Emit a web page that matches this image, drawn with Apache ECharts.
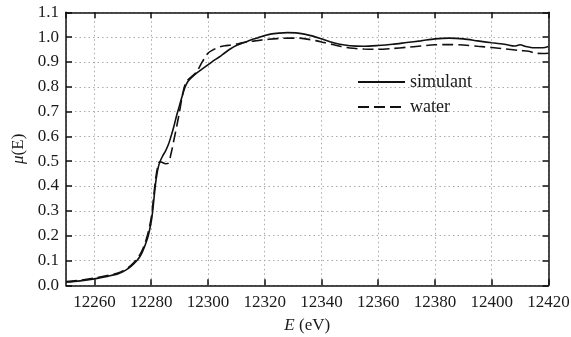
<!DOCTYPE html>
<html lang="en">
<head>
<meta charset="UTF-8" />
<title>mu(E)</title>
<style>
  html, body { margin: 0; padding: 0; background: #fff; }
</style>
</head>
<body>
<div id="main" style="width: 571px; height: 337px"></div>
<script src="https://cdn.jsdelivr.net/npm/echarts@6.0.0/dist/echarts.min.js"></script>
<script>
  // energy (eV) and mu(E)
  var simE = [12250, 12255, 12260, 12265, 12268, 12270, 12272, 12274, 12275, 12276, 12277, 12278, 12279, 12280, 12280.5, 12281, 12281.5, 12282, 12282.5, 12283, 12284, 12285, 12286, 12287, 12288, 12289, 12290, 12291, 12292, 12293, 12294, 12296, 12298, 12300, 12302, 12304, 12306, 12308, 12310, 12312, 12314, 12316, 12318, 12320, 12322, 12325, 12328, 12331, 12334, 12337, 12340, 12343, 12346, 12350, 12355, 12360, 12365, 12370, 12375, 12380, 12385, 12390, 12395, 12400, 12405, 12408, 12410, 12412, 12415, 12418, 12420];
  var simMu = [0.013, 0.018, 0.026, 0.037, 0.045, 0.054, 0.068, 0.088, 0.100, 0.115, 0.137, 0.165, 0.200, 0.255, 0.295, 0.350, 0.405, 0.445, 0.475, 0.495, 0.520, 0.540, 0.565, 0.600, 0.640, 0.685, 0.725, 0.765, 0.800, 0.822, 0.835, 0.855, 0.872, 0.888, 0.905, 0.920, 0.937, 0.953, 0.966, 0.975, 0.983, 0.992, 0.999, 1.006, 1.012, 1.016, 1.018, 1.017, 1.012, 1.004, 0.993, 0.981, 0.972, 0.965, 0.963, 0.966, 0.971, 0.978, 0.985, 0.993, 0.996, 0.993, 0.985, 0.977, 0.970, 0.964, 0.969, 0.962, 0.957, 0.957, 0.962];

  var watE = [12250, 12255, 12260, 12265, 12268, 12270, 12272, 12274, 12275, 12276, 12277, 12278, 12279, 12280, 12280.5, 12281, 12281.5, 12282, 12282.5, 12283, 12284, 12285, 12286, 12287, 12288, 12289, 12290, 12291, 12292, 12293, 12294, 12296, 12298, 12300, 12302, 12304, 12306, 12308, 12310, 12312, 12314, 12316, 12318, 12320, 12323, 12326, 12329, 12332, 12335, 12338, 12341, 12344, 12347, 12350, 12355, 12360, 12365, 12370, 12375, 12380, 12385, 12390, 12395, 12400, 12405, 12410, 12413, 12415, 12418, 12420];
  var watMu = [0.015, 0.020, 0.029, 0.040, 0.049, 0.058, 0.072, 0.093, 0.106, 0.122, 0.145, 0.175, 0.215, 0.270, 0.315, 0.370, 0.420, 0.460, 0.485, 0.498, 0.495, 0.490, 0.492, 0.530, 0.585, 0.640, 0.700, 0.765, 0.810, 0.828, 0.838, 0.860, 0.900, 0.935, 0.950, 0.960, 0.965, 0.968, 0.972, 0.977, 0.981, 0.984, 0.987, 0.990, 0.993, 0.995, 0.996, 0.996, 0.992, 0.986, 0.978, 0.970, 0.962, 0.956, 0.952, 0.951, 0.954, 0.959, 0.964, 0.969, 0.970, 0.968, 0.963, 0.958, 0.952, 0.946, 0.943, 0.936, 0.934, 0.935];

  var seriesNames = ["simulant", "water"];

  function pairs(xs, ys) {
    return xs.map(function (x, i) { return [x, ys[i]]; });
  }

  var myChart = echarts.init(document.getElementById("main"));
  var font = "Liberation Serif";
  var black = "#111";

  // shared axis settings (ticks inside on all four sides)
  function xAx(pos, labels) {
    return {
      type: "value", position: pos, min: 12250, max: 12420, splitNumber: 8,
      axisLine: { show: true, onZero: false, lineStyle: { color: black, width: 1.5 } },
      axisTick: { show: true, inside: true, length: 6, lineStyle: { color: black, width: 1.5 } },
      axisLabel: { show: labels, showMinLabel: false, margin: 9, color: "#1a1a1a", fontFamily: font, fontSize: 17,
        formatter: function (v) { return String(v); } },
      splitLine: { show: labels, lineStyle: { color: "#aaa", type: [1.5, 3], width: 1 } }
    };
  }
  function yAx(pos, labels) {
    return {
      type: "value", position: pos, min: 0, max: 1.1, interval: 0.1,
      axisLine: { show: true, onZero: false, lineStyle: { color: black, width: 1.5 } },
      axisTick: { show: true, inside: true, length: 6, lineStyle: { color: black, width: 1.5 } },
      axisLabel: { show: labels, margin: 7, color: "#1a1a1a", fontFamily: font, fontSize: 17,
        formatter: function (v) { return v.toFixed(1); } },
      splitLine: { show: labels, lineStyle: { color: "#aaa", type: [1.5, 3], width: 1 } }
    };
  }

  var xMain = xAx("bottom", true);
  xMain.name = "{i|E} (eV)";
  xMain.nameLocation = "middle";
  xMain.nameGap = 32;
  xMain.nameTextStyle = { color: "#1a1a1a", fontFamily: font, fontSize: 17,
    rich: { i: { fontStyle: "italic", fontFamily: font, fontSize: 17, color: "#1a1a1a" } } };

  var yMain = yAx("left", true);
  yMain.name = "{i|\u03bc}(E)";
  yMain.nameLocation = "middle";
  yMain.nameGap = 32;
  yMain.nameTextStyle = { color: "#1a1a1a", fontFamily: font, fontSize: 17,
    rich: { i: { fontStyle: "italic", fontFamily: font, fontSize: 17, color: "#1a1a1a" } } };

  var option = {
    animation: false,
    backgroundColor: "#fff",
    grid: { left: 66, right: 22.5, top: 12.3, bottom: 51.7, outerBoundsMode: "none" },
    legend: {
      orient: "vertical", left: 352, top: 68,
      itemWidth: 47, itemHeight: 14, itemGap: 7,
      itemStyle: { opacity: 0 },
      textStyle: { fontFamily: font, fontSize: 18, color: "#1a1a1a" },
      data: seriesNames
    },
    xAxis: [xMain, xAx("top", false)],
    yAxis: [yMain, yAx("right", false)],
    series: [
      {
        name: seriesNames[0], type: "line", symbol: "none", smooth: 0.3,
        lineStyle: { color: black, width: 1.6 }, itemStyle: { color: black },
        data: pairs(simE, simMu)
      },
      {
        name: seriesNames[1], type: "line", symbol: "none", smooth: 0.3,
        lineStyle: { color: black, width: 1.6, type: [11, 5] }, itemStyle: { color: black },
        data: pairs(watE, watMu)
      }
    ]
  };
  myChart.setOption(option);
</script>
</body>
</html>
